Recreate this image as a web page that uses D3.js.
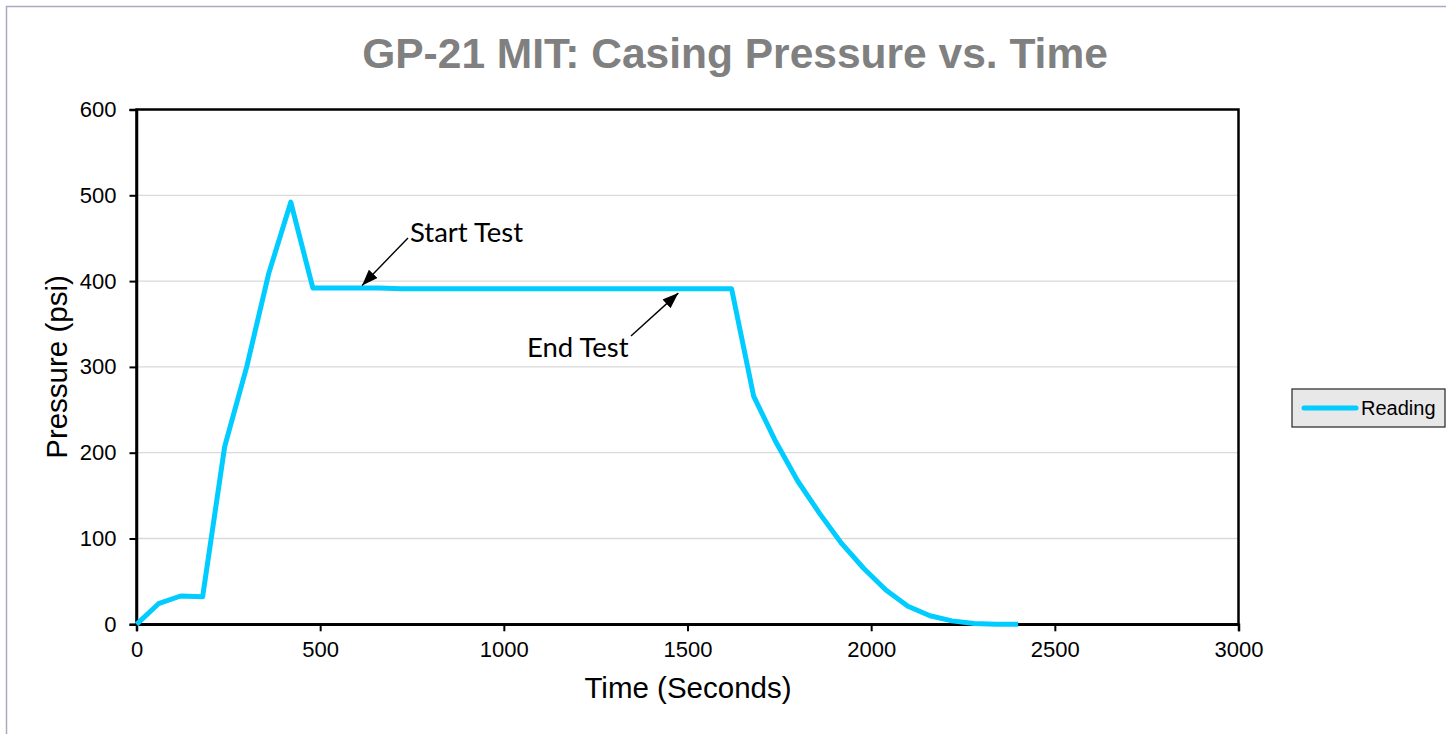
<!DOCTYPE html>
<html>
<head>
  <meta charset="utf-8">
  <title>GP-21 MIT: Casing Pressure vs. Time</title>
  <style>
    body { margin: 0; background: #fff; }
    svg { display: block; font-family: "Liberation Sans", Arial, sans-serif; }
    .grid line { stroke: #d9d9d9; stroke-width: 1.3px; }
    .axis path, .axis line { stroke: #000; }
    .axis text { font-size: 22px; fill: #000; }
    .note { font-family: Lato, "Open Sans", sans-serif; font-size: 27.5px; fill: #000; }
  </style>
</head>
<body>
  <div id="chart"></div>
  <script src="https://d3js.org/d3.v7.min.js"></script>
  <script>
    // time in seconds, pressure in psi (one reading per minute)
    const times = [0, 60, 120, 180, 240, 300, 360, 420, 480, 540, 600, 660, 720, 780, 840, 900,
      960, 1020, 1080, 1140, 1200, 1260, 1320, 1380, 1440, 1500, 1560, 1620, 1680, 1740,
      1800, 1860, 1920, 1980, 2040, 2100, 2160, 2220, 2280, 2340, 2400];
    const pressures = [0, 24, 33, 32, 207, 300, 409, 492, 392, 392, 392, 392, 391, 391, 391, 391,
      391, 391, 391, 391, 391, 391, 391, 391, 391, 391, 391, 391, 266, 213,
      167, 129, 94, 65, 40, 21, 10, 4, 1, 0, 0];
    const xTicks = [0, 500, 1000, 1500, 2000, 2500, 3000];
    const yTicks = [0, 100, 200, 300, 400, 500, 600];
    const seriesName = "Reading";
    const notes = [
      { label: "Start Test", t: 614, p: 395, tx: 410, ty: 242, ax: 408, ay: 238 },
      { label: "End Test", t: 1475, p: 386, tx: 527, ty: 357, ax: 631, ay: 336 }
    ];

    const width = 1446, height = 734;
    const plotLeft = 136.5, plotRight = 1238.5, plotTop = 109.5, plotBottom = 624.3;

    const svg = d3.select("#chart").append("svg")
      .attr("width", width).attr("height", height);

    svg.append("defs").append("marker")
      .attr("id", "arrow")
      .attr("viewBox", "0 0 16 12")
      .attr("refX", 16).attr("refY", 6)
      .attr("markerWidth", 16).attr("markerHeight", 12)
      .attr("markerUnits", "userSpaceOnUse")
      .attr("orient", "auto")
      .append("path").attr("d", "M0,0L16,6L0,12z").attr("fill", "#000");

    // outer chart frame
    svg.append("rect")
      .attr("x", 6.5).attr("y", 6.5)
      .attr("width", width).attr("height", height)
      .attr("fill", "none").attr("stroke", "#a9a9c4").attr("stroke-width", 1.5);

    const x = d3.scaleLinear().domain([0, 3000]).range([plotLeft, plotRight]);
    const y = d3.scaleLinear().domain([0, 600]).range([plotBottom, plotTop]);

    svg.append("text")
      .attr("x", 735).attr("y", 68)
      .attr("text-anchor", "middle")
      .attr("font-size", 42.5).attr("font-weight", "bold")
      .attr("fill", "#808080")
      .text("GP-21 MIT: Casing Pressure vs. Time");

    svg.append("g").attr("class", "grid")
      .selectAll("line").data(yTicks.slice(1, -1)).join("line")
      .attr("x1", plotLeft).attr("x2", plotRight)
      .attr("y1", d => y(d)).attr("y2", d => y(d));

    svg.append("rect")
      .attr("x", plotLeft).attr("y", plotTop)
      .attr("width", plotRight - plotLeft).attr("height", plotBottom - plotTop)
      .attr("fill", "none").attr("stroke", "#000").attr("stroke-width", 2.5);

    const xAxis = svg.append("g").attr("class", "axis")
      .attr("transform", `translate(0,${plotBottom})`)
      .call(d3.axisBottom(x).tickValues(xTicks).tickSize(7).tickPadding(10).tickFormat(d3.format("d")));
    xAxis.select(".domain").attr("stroke-width", 2.5);
    xAxis.selectAll(".tick line").attr("stroke-width", 2);

    const yAxis = svg.append("g").attr("class", "axis")
      .attr("transform", `translate(${plotLeft},0)`)
      .call(d3.axisLeft(y).tickValues(yTicks).tickSize(7).tickPadding(13).tickFormat(d3.format("d")));
    yAxis.select(".domain").attr("stroke-width", 2.5);
    yAxis.selectAll(".tick line").attr("stroke-width", 2);

    svg.append("text")
      .attr("x", 688).attr("y", 698)
      .attr("text-anchor", "middle").attr("font-size", 29.5)
      .text("Time (Seconds)");

    svg.append("text")
      .attr("transform", "translate(67,367) rotate(-90)")
      .attr("text-anchor", "middle").attr("font-size", 29.5)
      .text("Pressure (psi)");

    const points = times.map((t, i) => ({ t, p: pressures[i] }));
    const line = d3.line().x(d => x(d.t)).y(d => y(d.p));

    svg.append("path")
      .datum(points)
      .attr("d", line)
      .attr("fill", "none")
      .attr("stroke", "#00ccff")
      .attr("stroke-width", 5)
      .attr("stroke-linejoin", "round");

    // annotations
    notes.forEach(n => {
      svg.append("line")
        .attr("x1", n.ax).attr("y1", n.ay)
        .attr("x2", x(n.t)).attr("y2", y(n.p))
        .attr("stroke", "#000").attr("stroke-width", 1.4)
        .attr("marker-end", "url(#arrow)");
      svg.append("text").attr("class", "note")
        .attr("x", n.tx).attr("y", n.ty)
        .text(n.label);
    });

    // legend
    const lg = svg.append("g").attr("transform", "translate(1292,389)");
    lg.append("rect")
      .attr("width", 153).attr("height", 38)
      .attr("fill", "#e8e8e8").attr("stroke", "#333").attr("stroke-width", 1.3);
    lg.append("line")
      .attr("x1", 12).attr("x2", 64).attr("y1", 19).attr("y2", 19)
      .attr("stroke", "#00ccff").attr("stroke-width", 5).attr("stroke-linecap", "round");
    lg.append("text")
      .attr("x", 69).attr("y", 26)
      .attr("font-size", 20)
      .text(seriesName);
  </script>
</body>
</html>
